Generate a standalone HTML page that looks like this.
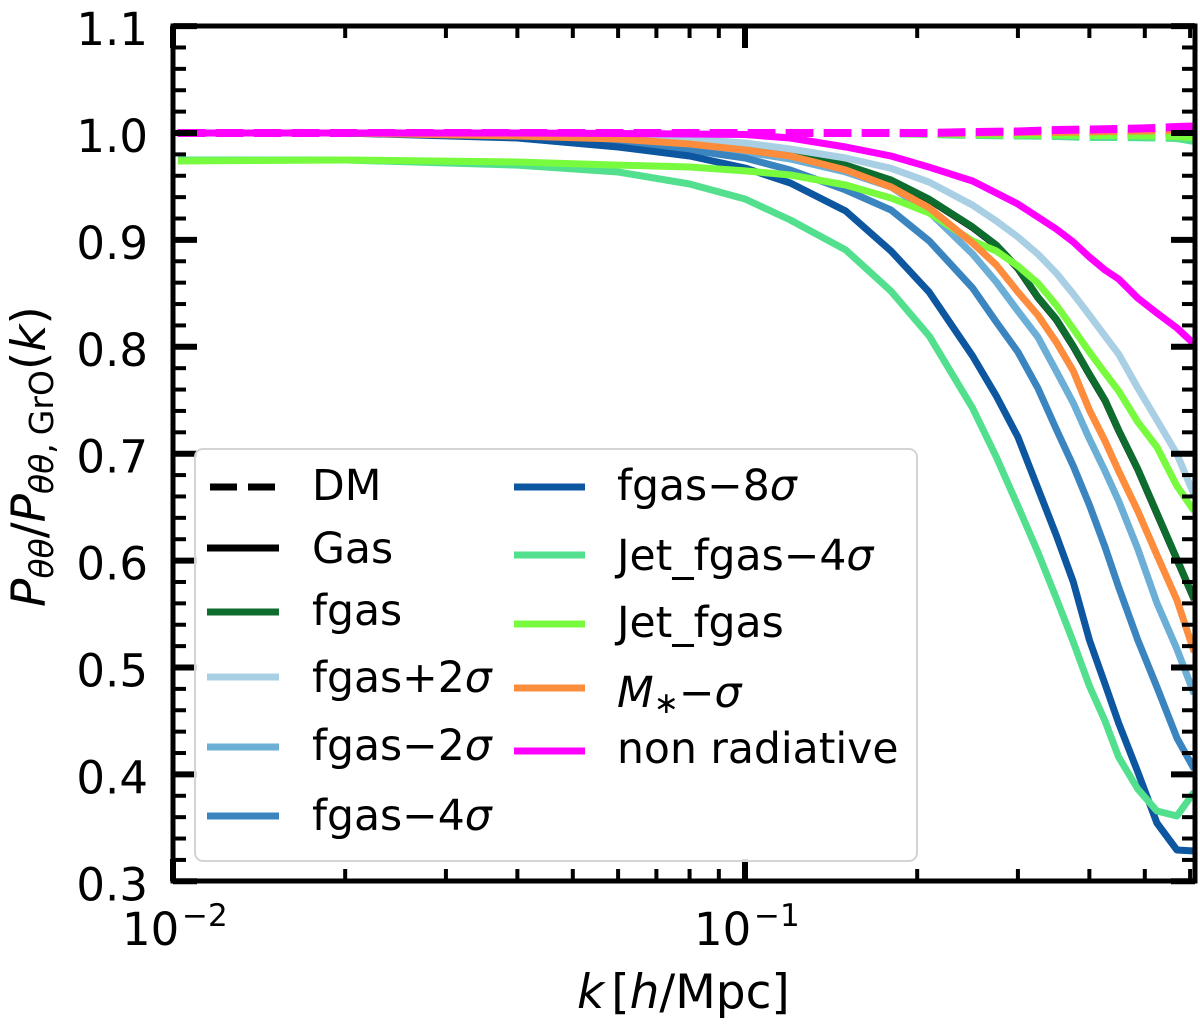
<!DOCTYPE html>
<html><head><meta charset="utf-8"><title>Velocity power spectrum ratio</title>
<style>
html,body{margin:0;padding:0;background:#fff;}
svg{display:block;}
text{font-family:"DejaVu Sans","Liberation Sans",sans-serif;fill:#000;}
</style></head>
<body>
<svg id="chart" xmlns="http://www.w3.org/2000/svg" width="1200" height="1029" viewBox="0 0 1200 1029">
<defs><clipPath id="plot-clip"><rect x="173" y="26" width="1022" height="855"/></clipPath></defs>
<rect width="1200" height="1029" fill="#fff"/>
<g id="dashed" clip-path="url(#plot-clip)"></g>
<g id="solid" clip-path="url(#plot-clip)"></g>
<g id="ticks"></g>
<rect x="173" y="26" width="1022" height="855" fill="none" stroke="#000" stroke-width="5"/>
<g id="ticklabels"></g>
<text x="577" y="1008" font-size="47"><tspan font-style="italic">k</tspan><tspan dx="7">[</tspan><tspan font-style="italic">h</tspan>/Mpc]</text>
<text transform="translate(45,607) rotate(-90)" font-size="47"><tspan font-style="italic">P</tspan><tspan font-size="33" dy="8" font-style="italic">θθ</tspan><tspan dy="-8">/</tspan><tspan font-style="italic">P</tspan><tspan font-size="33" dy="8" font-style="italic">θθ</tspan><tspan font-size="33">,</tspan><tspan font-size="33" dx="8">GrO</tspan><tspan dy="-8">(</tspan><tspan font-style="italic">k</tspan>)</text>
<g>
<rect x="195" y="449" width="722" height="412" rx="8" fill="#fff" fill-opacity="0.85" stroke="#d4d4d4" stroke-width="2"/>
<g id="legend-items" font-size="42.5"></g>
</g>
</svg>
<script>
const kValues=[0.0102,0.02,0.04,0.06,0.08,0.1,0.12,0.15,0.18,0.21,0.25,0.275,0.3,0.325,0.35,0.375,0.4,0.426,0.45,0.486,0.525,0.569,0.61];
const dmKValues=[0.0102,0.02,0.04,0.06,0.08,0.1,0.12,0.15,0.18,0.21,0.25,0.3,0.35,0.4,0.45,0.525,0.569,0.61];
const yTickValues=[0.3,0.4,0.5,0.6,0.7,0.8,0.9,1.0,1.1];
const yTickLabels=["0.3","0.4","0.5","0.6","0.7","0.8","0.9","1.0","1.1"];
const yMinorValues=[0.32,0.34,0.36,0.38,0.42,0.44,0.46,0.48,0.52,0.54,0.56,0.58,0.62,0.64,0.66,0.68,0.72,0.74,0.76,0.78,0.82,0.84,0.86,0.88,0.92,0.94,0.96,0.98,1.02,1.04,1.06,1.08];
const xMajorValues=[0.01,0.1];
const xMajorExponents=["−2","−1"];
const xMinorValues=[0.02,0.03,0.04,0.05,0.06,0.07,0.08,0.09,0.2,0.3,0.4,0.5,0.6];

const gas=[1,1,0.9991,0.9963,0.9925,0.9878,0.983,0.9695,0.9555,0.9375,0.9116,0.8947,0.8732,0.8461,0.8255,0.8002,0.7741,0.7497,0.7217,0.6852,0.644,0.601,0.5636];
const fgas=[1,1,0.9991,0.9963,0.9925,0.9878,0.9832,0.97,0.956,0.938,0.9121,0.8952,0.8737,0.8466,0.826,0.8007,0.7746,0.7502,0.7222,0.6857,0.6445,0.6015,0.5641];
const fgasPlus2=[1,1,0.9991,0.9981,0.9944,0.9906,0.985,0.9766,0.967,0.954,0.9326,0.9177,0.9027,0.8868,0.869,0.8494,0.8297,0.8101,0.7933,0.7615,0.7315,0.6997,0.6614];
const fgasMinus2=[1,1,0.9991,0.9935,0.9869,0.9822,0.9757,0.9635,0.9495,0.926,0.8868,0.8606,0.8335,0.8092,0.7774,0.7474,0.7138,0.6838,0.6558,0.6109,0.5603,0.5173,0.4752];
const fgasMinus4=[1,1,0.9981,0.9916,0.9841,0.9766,0.9654,0.9467,0.928,0.899,0.855,0.8232,0.7951,0.7615,0.7231,0.6885,0.652,0.6127,0.5753,0.5257,0.4818,0.4341,0.405];
const fgasMinus8=[1,1,0.9953,0.9869,0.9785,0.9673,0.9532,0.927,0.8896,0.851,0.7914,0.754,0.7156,0.6679,0.6239,0.58,0.5257,0.4846,0.4481,0.4022,0.3545,0.3293,0.3283];
const jetMinus4=[0.9747,0.9747,0.97,0.9635,0.9523,0.9383,0.9186,0.8906,0.852,0.81,0.7427,0.6969,0.6511,0.608,0.565,0.5239,0.4827,0.45,0.4163,0.3863,0.3658,0.3611,0.3835];
const jetFgas=[0.9738,0.9747,0.9729,0.97,0.9682,0.9645,0.9607,0.9514,0.9392,0.9252,0.899,0.8896,0.8756,0.8597,0.8391,0.8167,0.7951,0.7755,0.7587,0.7297,0.7063,0.6698,0.6464];
const mStar=[1,1,0.9972,0.9944,0.9897,0.9841,0.9785,0.9654,0.9495,0.93,0.8971,0.8765,0.8513,0.8297,0.8045,0.7774,0.7409,0.7119,0.6838,0.6464,0.6052,0.5631,0.5145];
const nonRad=[1,1,1,0.9995,0.9991,0.9986,0.9953,0.9869,0.9785,0.968,0.9551,0.9439,0.9336,0.9214,0.9102,0.898,0.884,0.8718,0.8634,0.8456,0.8316,0.8176,0.8026];

const dmBlack=[1,1,1,1,1,1,1,1,1,1,1,1,1.0005,1.0005,1.0005,1.001,1.001,1.001];
const dmFgas=[1,1,1,1,1,1,1,1,1,1,0.9995,0.9995,0.9995,0.9995,0.9995,1,1,1];
const dmFgasPlus2=[1,1,1,1,1,1,1,1,1,1,1,1,1,1.0005,1.0005,1.001,1.0015,1.002];
const dmFgasMinus2=[1,1,1,1,1,1,1,1,1,1,0.9995,0.9995,0.9995,0.999,0.999,0.9995,0.9995,0.9995];
const dmFgasMinus4=[1,1,1,1,1,1,1,1,1,0.9995,0.9995,0.999,0.999,0.9985,0.9985,0.9985,0.9985,0.9985];
const dmFgasMinus8=[1,1,1,1,1,1,1,1,1,0.9995,0.999,0.9985,0.998,0.9975,0.9975,0.9975,0.9975,0.9975];
const dmJetMinus4=[1,1,1,1,1,1,1,1,1,0.9991,0.9981,0.9977,0.9972,0.9963,0.9963,0.9958,0.9953,0.9925];
const dmJet=[1,1,1,1,1,1,1,1,1,0.9995,0.9991,0.9986,0.9986,0.9981,0.9981,0.9977,0.9972,0.996];
const dmMStar=[1,1,1,1,1,1,1,1,1,1,1.0005,1.001,1.001,1.0015,1.002,1.0025,1.003,1.0035];
const dmNonRad=[1,1,1,1,1,1,1,1,1,1,1.0009,1.0014,1.0028,1.0033,1.0037,1.0047,1.0056,1.0061];

const seriesNames=["gas","fgas","fgas-plus-2-sigma","fgas-minus-2-sigma","fgas-minus-4-sigma","fgas-minus-8-sigma","jet-fgas-minus-4-sigma","jet-fgas","m-star-minus-sigma","non-radiative"];
const seriesColors=["#000000","#0e6d2e","#a9cfe5","#6baed6","#3a85bf","#0d56a0","#52e08e","#78fb3f","#fd8d3c","#ff00ff"];
const solidData=[gas,fgas,fgasPlus2,fgasMinus2,fgasMinus4,fgasMinus8,jetMinus4,jetFgas,mStar,nonRad];
const dashedData=[dmBlack,dmFgas,dmFgasPlus2,dmFgasMinus2,dmFgasMinus4,dmFgasMinus8,dmJetMinus4,dmJet,dmMStar,dmNonRad];

const SVGNS="http://www.w3.org/2000/svg";
const xPos=k=>173+572*(Math.log10(k)+2);
const yPos=v=>133+(1-v)*1069;
const make=(tag,parent)=>{const e=document.createElementNS(SVGNS,tag);parent.appendChild(e);return e;};
const pathFor=(vals,grid)=>vals.map((v,i)=>(i?"L":"M")+xPos(grid[i]).toFixed(1)+" "+yPos(v).toFixed(1)).join(" ");

const dashedG=document.getElementById("dashed");
dashedData.forEach((vals,i)=>{
  const el=make("path",dashedG);
  
  
  el.setAttribute("d",pathFor(vals,dmKValues));
  el.setAttribute("fill","none");
  el.setAttribute("stroke",seriesColors[i]);
  el.setAttribute("stroke-width","8");
  el.setAttribute("stroke-dasharray","27.5 10.5");
});
const solidG=document.getElementById("solid");
solidData.forEach((vals,i)=>{
  const el=make("path",solidG);
  
  
  el.setAttribute("d",pathFor(vals,kValues));
  el.setAttribute("fill","none");
  el.setAttribute("stroke",seriesColors[i]);
  el.setAttribute("stroke-width","7");
  el.setAttribute("stroke-linejoin","round");
});

const ticksG=document.getElementById("ticks");
function tick(x1,y1,x2,y2,w,name){
  const el=make("line",ticksG);
  
  
  el.setAttribute("x1",x1);el.setAttribute("y1",y1);el.setAttribute("x2",x2);el.setAttribute("y2",y2);
  el.setAttribute("stroke","#000");el.setAttribute("stroke-width",w);
}
yTickValues.forEach(v=>{const y=yPos(v);tick(173,y,197,y,6,'y-major-tick');tick(1195,y,1171,y,6,'y-major-tick-right');});
yMinorValues.forEach(v=>{const y=yPos(v);tick(173,y,186,y,4,'y-minor-tick');tick(1195,y,1182,y,4,'y-minor-tick-right');});
xMajorValues.forEach(k=>{const x=xPos(k);tick(x,881,x,859,6,'x-major-tick');tick(x,26,x,48,6,'x-major-tick-top');});
xMinorValues.forEach(k=>{const x=xPos(k);tick(x,881,x,869,4,'x-minor-tick');tick(x,26,x,38,4,'x-minor-tick-top');});

const labelsG=document.getElementById("ticklabels");
yTickValues.forEach((v,i)=>{
  const el=make("text",labelsG);
  
  
  el.setAttribute("x",148);el.setAttribute("y",yPos(v)+19);
  el.setAttribute("text-anchor","end");el.setAttribute("font-size","45");
  el.textContent=yTickLabels[i];
});
xMajorValues.forEach((k,i)=>{
  const x=xPos(k)-51;
  const el=make("text",labelsG);
  
  
  el.setAttribute("x",x);el.setAttribute("y",945);el.setAttribute("font-size","45");
  el.textContent="10";
  const sup=make("text",labelsG);
  
  
  sup.setAttribute("x",x+60);sup.setAttribute("y",926);sup.setAttribute("font-size","31");
  sup.textContent=xMajorExponents[i];
});

const legendG=document.getElementById("legend-items");
const leftRows=[
 {t:"DM",c:"#000000",ly:487,ty:500,dash:true},
 {t:"Gas",c:"#000000",ly:548,ty:563},
 {t:"fgas",c:"#0e6d2e",ly:612,ty:625},
 {t:"fgas+2<i>σ</i>",c:"#a9cfe5",ly:677,ty:692},
 {t:"fgas−2<i>σ</i>",c:"#6baed6",ly:747,ty:760},
 {t:"fgas−4<i>σ</i>",c:"#3a85bf",ly:816,ty:830}];
const rightRows=[
 {t:"fgas−8<i>σ</i>",c:"#0d56a0",ly:487,ty:500},
 {t:"Jet_fgas−4<i>σ</i>",c:"#52e08e",ly:555,ty:570},
 {t:"Jet_fgas",c:"#78fb3f",ly:624,ty:637},
 {t:"<i>M</i><tspan font-size=\"30\" dy=\"6\">∗</tspan><tspan dy=\"-6\">−</tspan><i>σ</i>",c:"#fd8d3c",ly:688,ty:707},
 {t:"non radiative",c:"#ff00ff",ly:751,ty:763}];
function legendRow(r,x0,x1,tx){
  const ln=make("line",legendG);
  
  
  ln.setAttribute("x1",r.dash?x0+3:x0);ln.setAttribute("x2",r.dash?x1-3:x1);ln.setAttribute("y1",r.ly);ln.setAttribute("y2",r.ly);
  ln.setAttribute("stroke",r.c);ln.setAttribute("stroke-width","7");
  if(r.dash)ln.setAttribute("stroke-dasharray","27 11");
  const tx2=make("text",legendG);
  
  
  tx2.setAttribute("x",tx);tx2.setAttribute("y",r.ty);
  tx2.innerHTML=r.t.replace(/<i>/g,'<tspan font-style="italic">').replace(/<\/i>/g,'</tspan>');
}
leftRows.forEach(r=>legendRow(r,207,279,312));
rightRows.forEach(r=>legendRow(r,514,585,617));
</script>
</body></html>
